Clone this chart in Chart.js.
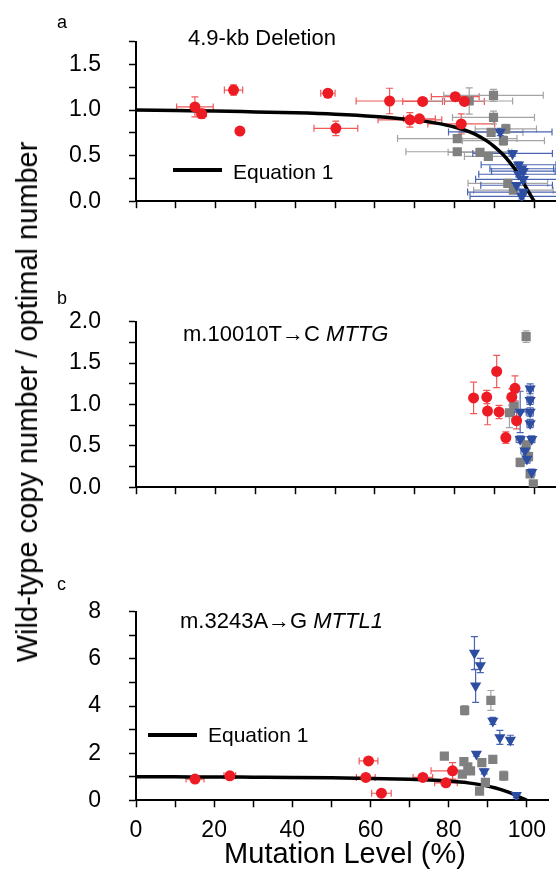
<!DOCTYPE html>
<html>
<head>
<meta charset="utf-8">
<script src="https://cdn.jsdelivr.net/npm/chart.js@4.4.0/dist/chart.umd.min.js"></script>
<style>
body { margin: 0; background: #fff; }
#wrap { position: relative; width: 556px; height: 871px; font-family: "Liberation Sans", Arial, sans-serif; color: #000; overflow: hidden; }
canvas { position: absolute; left: 0; }
.txt { position: absolute; white-space: nowrap; line-height: 24px; }
.eqline { position: absolute; height: 3.5px; background: #000; }
</style>
</head>
<body>
<div id="wrap">
  <canvas id="panelA" width="556" height="243" style="top:0px"></canvas>
  <canvas id="panelB" width="556" height="249" style="top:280px"></canvas>
  <canvas id="panelC" width="556" height="301" style="top:570px"></canvas>

  <div class="txt" style="left:57px;top:10px;font-size:18px">a</div>
  <div class="txt" style="left:57px;top:286px;font-size:18px">b</div>
  <div class="txt" style="left:57px;top:572px;font-size:18px">c</div>

  <div class="txt" style="left:188px;top:26px;font-size:22px">4.9-kb Deletion</div>
  <div class="eqline" style="left:173px;top:168px;width:49px"></div>
  <div class="txt" style="left:233px;top:160px;font-size:21px">Equation 1</div>

  <div class="txt" style="left:183px;top:322px;font-size:22px">m.10010T→C <i>MTTG</i></div>

  <div class="txt" style="left:180px;top:609px;font-size:22px">m.3243A→G <i>MTTL1</i></div>
  <div class="eqline" style="left:148px;top:733px;width:49px"></div>
  <div class="txt" style="left:208px;top:723px;font-size:21px">Equation 1</div>

  <div class="txt" style="left:27px;top:402px;font-size:29px;transform:translate(-50%,-50%) rotate(-90deg)">Wild-type copy number / optimal number</div>
  <div class="txt" style="left:345px;top:853px;font-size:29px;transform:translate(-50%,-50%)">Mutation Level (%)</div>
</div>

<script>
// Equation 1
const eqX = [0, 10, 20, 30, 40, 50, 60, 70, 75, 80, 85, 88, 90, 92, 94, 96, 98, 99, 100];
const eqY = [1.0, 0.995, 0.99, 0.98, 0.97, 0.955, 0.93, 0.89, 0.86, 0.815, 0.74, 0.665, 0.6, 0.52, 0.42, 0.3, 0.15, 0.075, 0];

// panel a - 4.9-kb deletion
const aRedX = [14.8, 16.5, 24.5, 26.1, 48.2, 50.2, 63.7, 72.0, 68.8, 71.2, 80.2, 82.5, 81.7];
const aRedY = [1.035, 0.96, 1.22, 0.77, 1.185, 0.80, 1.10, 1.095, 0.893, 0.905, 1.147, 1.095, 0.848];
const aRedXErr = [4.6, 1.2, 2.3, 0, 1.8, 5.5, 8.4, 5.0, 8.0, 4.0, 6.0, 5.0, 8.4];
const aRedYErr = [0.11, 0.05, 0.057, 0, 0.03, 0.08, 0.14, 0.03, 0.08, 0.03, 0.04, 0.04, 0.11];

const aGrayX = [89.8, 83.7, 89.8, 92.9, 89.2, 92.3, 80.7, 80.7, 86.4, 88.5, 93.4, 94.8];
const aGrayY = [1.162, 1.10, 0.92, 0.794, 0.755, 0.664, 0.688, 0.543, 0.537, 0.492, 0.196, 0.121];
const aGrayXErr = [12.5, 10.9, 10.3, 7.7, 8, 10.3, 15, 12.9, 8, 6, 10, 10];
const aGrayYErr = [0.065, 0.145, 0.07, 0.05, 0.03, 0.05, 0.03, 0.03, 0.03, 0.04, 0.03, 0.03];

const aBlueX = [91.5, 94.6, 96.1, 96.9, 97.3, 96.1, 97.3, 95.6, 97.3, 96.9];
const aBlueY = [0.76, 0.525, 0.40, 0.356, 0.33, 0.296, 0.24, 0.175, 0.10, 0.054];
const aBlueXErr = [13, 10, 9.4, 8, 8, 10, 12, 9, 14, 13];
const aBlueYErr = [0.04, 0.03, 0.03, 0.03, 0.03, 0.03, 0.03, 0.03, 0.03, 0.03];

// panel b - m.10010T>C
const bRedX = [84.8, 88.1, 88.3, 90.6, 91.2, 92.9, 94.4, 95.2, 95.6];
const bRedY = [1.08, 1.09, 0.92, 1.40, 0.91, 0.60, 1.09, 1.195, 0.805];
const bRedYErr = [0.19, 0.08, 0.165, 0.195, 0.08, 0.07, 0.1, 0.15, 0.1];

const bGrayX = [98.0, 93.8, 95.0, 98.0, 96.5, 98.6, 99.0, 99.8];
const bGrayY = [1.82, 0.90, 0.98, 0.51, 0.30, 0.37, 0.16, 0.04];
const bGrayYErr = [0.07, 0.18, 0.15, 0.05, 0.05, 0.05, 0.04, 0.02];

const bBlueX = [99.0, 99.0, 96.5, 99.0, 99.0, 96.5, 99.4, 97.7, 98.2, 99.4];
const bBlueY = [1.19, 1.05, 0.91, 0.91, 0.77, 0.58, 0.58, 0.44, 0.34, 0.18];
const bBlueXErr = [0.8, 0.8, 1.5, 0.8, 0.8, 1.0, 0.8, 1.0, 0.8, 0.8];
const bBlueYErr = [0.06, 0.05, 0.25, 0.05, 0.05, 0.04, 0.04, 0.05, 0.05, 0.04];

// panel c - m.3243A>G
const cRedX = [15.1, 24.0, 59.5, 58.8, 62.8, 73.4, 81.0, 79.3];
const cRedY = [0.90, 1.04, 1.67, 0.97, 0.30, 0.97, 1.25, 0.74];
const cRedXErr = [2.3, 1.5, 2.4, 2.4, 2.5, 2.5, 5.5, 2.9];
const cRedYErr = [0.05, 0.05, 0.1, 0.05, 0.05, 0.05, 0.35, 0.05];

const cGrayX = [84.1, 90.8, 78.9, 83.9, 84.9, 85.6, 83.5, 88.5, 91.3, 89.4, 87.9, 94.1];
const cGrayY = [3.82, 4.24, 1.875, 1.64, 1.42, 1.25, 1.11, 1.6, 1.74, 0.76, 0.39, 1.04];
const cGrayYErr = [0.2, 0.42, 0, 0.1, 0.1, 0.1, 0.1, 0.1, 0, 0, 0, 0.2];

const cBlueX = [86.6, 88.1, 86.9, 91.3, 93.1, 95.8, 87.1, 89.1, 97.3];
const cBlueY = [6.25, 5.72, 4.86, 3.37, 2.67, 2.56, 1.97, 1.22, 0.21];
const cBlueYErr = [0.7, 0.3, 0.7, 0.15, 0.3, 0.2, 0.1, 0.1, 0.1];

// x ticks every 10, labelled every 20
const xTicks = [0, 10, 20, 30, 40, 50, 60, 70, 80, 90, 100];
const xTickLabels = ['0', '20', '40', '60', '80', '100'];

const RED = '#ed1c24', GRAY = '#808080', BLUE = '#2d4ea0';
const FONT = '"Liberation Sans", Arial, sans-serif';

function pts(xs, ys) {
    return xs.map((x, i) => ({ x: x, y: ys[i] }));
}

// draws error bars under the markers
const errorBars = {
    id: 'errorBars',
    beforeDatasetsDraw(chart) {
        const ctx = chart.ctx;
        const xs = chart.scales.x, ys = chart.scales.y;
        const cap = 3.5;
        chart.data.datasets.forEach(ds => {
            if (!ds.xErr && !ds.yErr) return;
            ctx.save();
            ctx.strokeStyle = ds.errColor;
            ctx.lineWidth = 1.2;
            ds.data.forEach((p, i) => {
                const px = xs.getPixelForValue(p.x);
                const py = ys.getPixelForValue(p.y);
                const ex = ds.xErr ? ds.xErr[i] : 0;
                const ey = ds.yErr ? ds.yErr[i] : 0;
                ctx.beginPath();
                if (ex > 0) {
                    const l = xs.getPixelForValue(p.x - ex), r = xs.getPixelForValue(p.x + ex);
                    ctx.moveTo(l, py); ctx.lineTo(r, py);
                    ctx.moveTo(l, py - cap); ctx.lineTo(l, py + cap);
                    ctx.moveTo(r, py - cap); ctx.lineTo(r, py + cap);
                }
                if (ey > 0) {
                    const t = ys.getPixelForValue(p.y + ey), b = ys.getPixelForValue(p.y - ey);
                    ctx.moveTo(px, t); ctx.lineTo(px, b);
                    ctx.moveTo(px - cap, t); ctx.lineTo(px + cap, t);
                    ctx.moveTo(px - cap, b); ctx.lineTo(px + cap, b);
                }
                ctx.stroke();
            });
            ctx.restore();
        });
    }
};

function markerSet(xs, ys, xErr, yErr, kind) {
    const style = {
        red: { pointStyle: 'circle', pointRadius: 5.5, color: RED, err: '#f05a5a', order: 1, rot: 0 },
        gray: { pointStyle: 'rect', pointRadius: 6.5, color: GRAY, err: '#a4a4a4', order: 3, rot: 0 },
        blue: { pointStyle: 'triangle', pointRadius: 6.5, color: BLUE, err: '#4b63b3', order: 2, rot: 180 }
    }[kind];
    return {
        data: pts(xs, ys),
        xErr: xErr,
        yErr: yErr,
        errColor: style.err,
        pointStyle: style.pointStyle,
        pointRadius: style.pointRadius,
        pointRotation: style.rot,
        backgroundColor: style.color,
        borderColor: style.color,
        borderWidth: 0,
        showLine: false,
        order: style.order
    };
}

function curveSet() {
    return {
        data: pts(eqX, eqY),
        showLine: true,
        borderColor: '#000',
        borderWidth: 3.5,
        pointRadius: 0,
        cubicInterpolationMode: 'monotone',
        order: 4
    };
}

function makePanel(id, datasets, yMax, yStep, yLabelEvery, yDigits, padTop, xHeight, showXLabels) {
    return new Chart(document.getElementById(id), {
        type: 'scatter',
        data: { datasets: datasets },
        options: {
            responsive: false,
            animation: false,
            layout: { autoPadding: false, padding: { top: padTop, right: 0, bottom: 0, left: 0 } },
            plugins: { legend: { display: false }, tooltip: { enabled: false } },
            scales: {
                x: {
                    type: 'linear',
                    min: 0,
                    max: 105.5,
                    afterBuildTicks: s => { s.ticks = xTicks.map(v => ({ value: v })); },
                    afterFit: s => { s.height = xHeight; },
                    border: { display: true, color: '#000', width: 2 },
                    grid: { drawOnChartArea: false, drawTicks: true, tickLength: 7, tickColor: '#000', tickWidth: 1.5 },
                    ticks: {
                        display: showXLabels,
                        autoSkip: false,
                        maxRotation: 0,
                        padding: 10,
                        color: '#000',
                        font: { family: FONT, size: 23 },
                        callback: v => (Math.round(v) % 20 === 0 ? xTickLabels[Math.round(v) / 20] : '')
                    }
                },
                y: {
                    type: 'linear',
                    min: 0,
                    max: yMax,
                    afterFit: s => { s.width = 136; },
                    border: { display: true, color: '#000', width: 2 },
                    grid: { drawOnChartArea: false, drawTicks: true, tickLength: 7, tickColor: '#000', tickWidth: 1.5 },
                    ticks: {
                        stepSize: yStep,
                        autoSkip: false,
                        padding: 28,
                        color: '#000',
                        font: { family: FONT, size: 23 },
                        callback: v => {
                            const k = Math.round(v / yStep);
                            return k % yLabelEvery === 0 ? v.toFixed(yDigits) : '';
                        }
                    }
                }
            }
        },
        plugins: [errorBars]
    });
}

makePanel('panelA', [
    markerSet(aRedX, aRedY, aRedXErr, aRedYErr, 'red'),
    markerSet(aGrayX, aGrayY, aGrayXErr, aGrayYErr, 'gray'),
    markerSet(aBlueX, aBlueY, aBlueXErr, aBlueYErr, 'blue'),
    curveSet()
], 1.75, 0.25, 2, 1, 29.3, 20.3, false);

makePanel('panelB', [
    markerSet(bRedX, bRedY, null, bRedYErr, 'red'),
    markerSet(bGrayX, bGrayY, null, bGrayYErr, 'gray'),
    markerSet(bBlueX, bBlueY, bBlueXErr, bBlueYErr, 'blue')
], 2.0, 0.25, 2, 1, 36.7, 20.3, false);

makePanel('panelC', [
    markerSet(cRedX, cRedY, cRedXErr, cRedYErr, 'red'),
    markerSet(cGrayX, cGrayY, null, cGrayYErr, 'gray'),
    markerSet(cBlueX, cBlueY, null, cBlueYErr, 'blue'),
    curveSet()
], 8, 1, 2, 0, 38.3, 70.7, true);
</script>
</body>
</html>
